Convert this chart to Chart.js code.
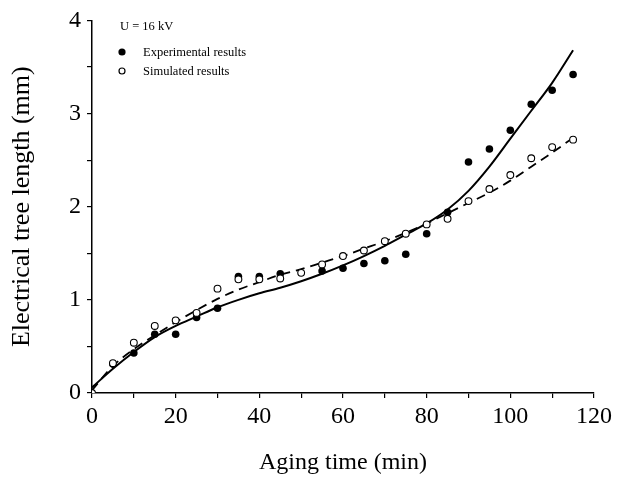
<!DOCTYPE html>
<html>
<head>
<meta charset="utf-8">
<script src="https://cdn.jsdelivr.net/npm/chart.js@4/dist/chart.umd.min.js"></script>
<style>
  html, body { margin: 0; padding: 0; background: #fff; }
</style>
</head>
<body>
<canvas id="grafico" width="627" height="500"></canvas>
<script>
// dados (tempo em min, comprimento em mm)
var tempos = [0, 5, 10, 15, 20, 25, 30, 35, 40, 45, 50, 55, 60, 65, 70, 75, 80, 85, 90, 95, 100, 105, 110, 115];
var experimental = [null, 0.31, 0.43, 0.63, 0.63, 0.81, 0.91, 1.25, 1.25, 1.28, null, 1.31, 1.34, 1.39, 1.42, 1.49, 1.71, 1.94, 2.48, 2.62, 2.82, 3.10, 3.25, 3.42];
var simulado = [0, 0.32, 0.54, 0.72, 0.78, 0.86, 1.12, 1.22, 1.22, 1.23, 1.29, 1.38, 1.47, 1.53, 1.63, 1.71, 1.81, 1.87, 2.06, 2.19, 2.34, 2.52, 2.64, 2.72];
// curvas ajustadas
var ajusteExp = [0.06, 0.26, 0.44, 0.60, 0.72, 0.82, 0.92, 1.00, 1.07, 1.13, 1.20, 1.28, 1.37, 1.47, 1.58, 1.70, 1.82, 1.97, 2.17, 2.43, 2.73, 3.03, 3.33, 3.68];
var ajusteSim = [0.03, 0.29, 0.47, 0.62, 0.76, 0.89, 1.01, 1.11, 1.19, 1.27, 1.33, 1.40, 1.47, 1.55, 1.63, 1.72, 1.82, 1.93, 2.04, 2.15, 2.28, 2.43, 2.58, 2.74];

var rotuloTensao = 'U = 16 kV';
var nomesSeries = ['Experimental results', 'Simulated results'];

function pares(ys) {
  var out = [];
  for (var i = 0; i < tempos.length; i++) {
    if (ys[i] !== null) out.push({ x: tempos[i], y: ys[i] });
  }
  return out;
}

var fonte = "'Liberation Serif', 'Times New Roman', serif";

// legenda dentro da área do gráfico
var legendaInterna = {
  id: 'legendaInterna',
  afterDraw: function (chart) {
    var ctx = chart.ctx;
    ctx.save();
    ctx.fillStyle = '#000';
    ctx.font = '12.5px ' + fonte;
    ctx.textBaseline = 'middle';
    ctx.fillText(rotuloTensao, 120, 27);
    ctx.fillText(nomesSeries[0], 143, 53);
    ctx.fillText(nomesSeries[1], 143, 72);
    ctx.beginPath();
    ctx.arc(122, 52, 3.6, 0, Math.PI * 2);
    ctx.fill();
    ctx.beginPath();
    ctx.arc(122, 71, 3, 0, Math.PI * 2);
    ctx.fillStyle = '#fff';
    ctx.fill();
    ctx.lineWidth = 1.2;
    ctx.strokeStyle = '#000';
    ctx.stroke();
    ctx.restore();
  }
};

var ctx = document.getElementById('grafico').getContext('2d');

var meuGrafico = new Chart(ctx, {
  type: 'scatter',
  data: {
    datasets: [
      {
        label: nomesSeries[1],
        data: pares(simulado),
        order: 0,
        pointRadius: 3.4,
        pointBackgroundColor: '#fff',
        pointBorderColor: '#000',
        pointBorderWidth: 1.1,
        showLine: false
      },
      {
        label: nomesSeries[0],
        data: pares(experimental),
        order: 1,
        pointRadius: 3.8,
        pointBackgroundColor: '#000',
        pointBorderColor: '#000',
        pointBorderWidth: 0,
        showLine: false
      },
      {
        label: 'ajuste simulado',
        data: pares(ajusteSim),
        order: 2,
        showLine: true,
        pointRadius: 0,
        borderColor: '#000',
        borderWidth: 1.8,
        borderDash: [9, 6],
        cubicInterpolationMode: 'monotone'
      },
      {
        label: 'ajuste experimental',
        data: pares(ajusteExp),
        order: 3,
        showLine: true,
        pointRadius: 0,
        borderColor: '#000',
        borderWidth: 2,
        cubicInterpolationMode: 'monotone'
      }
    ]
  },
  options: {
    responsive: false,
    animation: false,
    layout: { padding: { left: 0, right: 33, top: 18, bottom: 0 } },
    plugins: {
      legend: { display: false },
      tooltip: { enabled: false }
    },
    scales: {
      x: {
        type: 'linear',
        min: 0,
        max: 120,
        afterFit: function (s) { s.height = 107; },
        border: { display: true, color: '#000', width: 1.5 },
        grid: { display: true, drawOnChartArea: false, color: '#000', tickLength: 5, lineWidth: 1.2 },
        ticks: {
          stepSize: 10,
          color: '#000',
          padding: 4,
          maxRotation: 0,
          font: { family: fonte, size: 24 },
          callback: function (v) { return v % 20 === 0 ? v : ''; }
        },
        title: {
          display: true,
          text: 'Aging time (min)',
          color: '#000',
          font: { family: fonte, size: 24 },
          padding: { top: 0, bottom: 23 }
        }
      },
      y: {
        type: 'linear',
        min: 0,
        max: 4,
        afterFit: function (s) { s.width = 92; },
        border: { display: true, color: '#000', width: 1.5 },
        grid: { display: true, drawOnChartArea: false, color: '#000', tickLength: 5, lineWidth: 1.2 },
        ticks: {
          stepSize: 0.5,
          color: '#000',
          padding: 6,
          font: { family: fonte, size: 24 },
          callback: function (v) { return Number.isInteger(v) ? v : ''; }
        },
        title: {
          display: true,
          text: 'Electrical tree length (mm)',
          color: '#000',
          font: { family: fonte, size: 26 },
          padding: { top: 7, bottom: 0 }
        }
      }
    }
  },
  plugins: [legendaInterna]
});
</script>
</body>
</html>
